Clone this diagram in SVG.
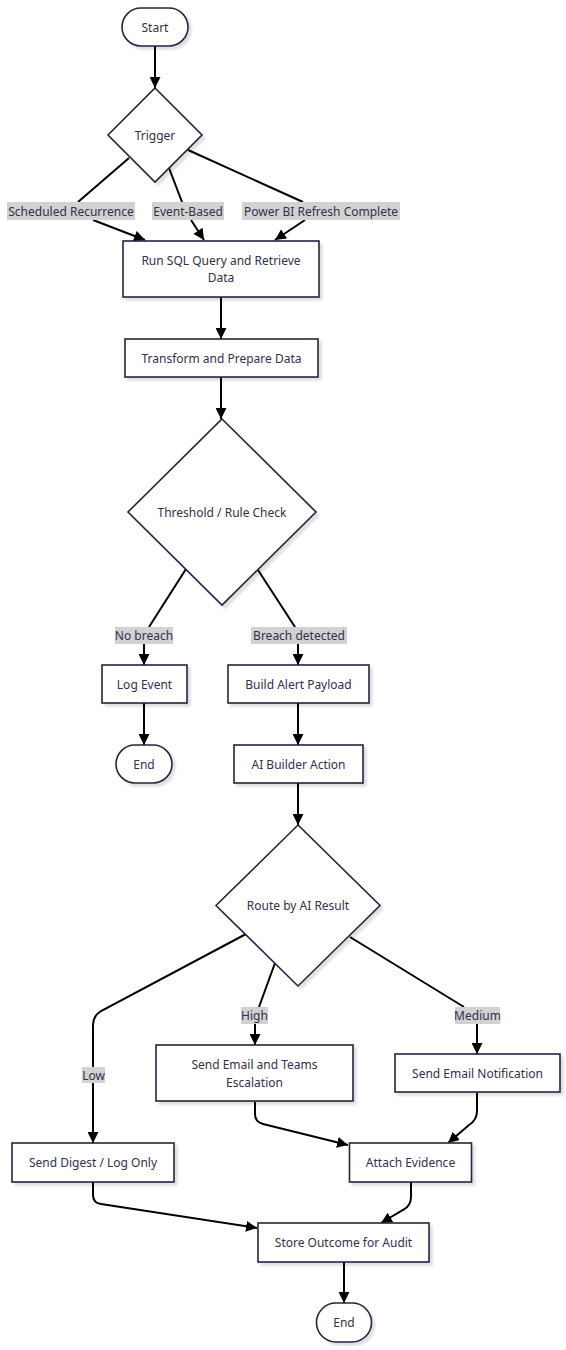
<svg xmlns="http://www.w3.org/2000/svg" width="566" height="1350" viewBox="0 0 566 1350">
<style>
.n{fill:#fff;stroke:#27243f;stroke-width:1.6;filter:url(#sh)}
.t{font-family:"Noto Sans","Open Sans",sans-serif;font-size:12px;fill:#33304a;text-anchor:middle;dominant-baseline:central}
.e{fill:none;stroke:#000;stroke-width:2}
.a{marker-end:url(#arr)}
.lb{fill:#d2d2d2}
</style>
<defs>
<filter id="sh" x="-20%" y="-20%" width="140%" height="140%">
<feDropShadow dx="3" dy="3" stdDeviation="1.2" flood-color="#000" flood-opacity="0.12"/>
</filter>
<marker id="arr" viewBox="0 0 10 10" refX="10" refY="5" markerWidth="11" markerHeight="11" markerUnits="userSpaceOnUse" orient="auto">
<path d="M0,0 L10,5 L0,10 z" fill="#000"/>
</marker>
</defs>
<g id="connectors">
<path class="e a" d="M155,46 L155,88"/>
<path class="e" d="M129,158 L78,202"/>
<path class="e a" d="M93,220 L145,240"/>
<path class="e" d="M169,168 L182,202"/>
<path class="e a" d="M191,220 L204,240"/>
<path class="e" d="M188,150 L303,202"/>
<path class="e a" d="M305,220 L275,240"/>
<path class="e a" d="M221,297 L221,339"/>
<path class="e a" d="M221,377 L221,419"/>
<path class="e" d="M186,569 L149,627"/>
<path class="e a" d="M144,644 L144,665"/>
<path class="e" d="M258,570 L295,627"/>
<path class="e a" d="M298,644 L298,665"/>
<path class="e a" d="M144,703 L144,745"/>
<path class="e a" d="M298,703 L298,745"/>
<path class="e a" d="M298,783 L298,825"/>
<path class="e a" d="M246,934 L101,1011 Q93,1016 93,1025 L93,1143"/>
<path class="e" d="M275,963 L259,1007"/>
<path class="e a" d="M255,1024 L255,1045"/>
<path class="e" d="M350,937 L464,1007"/>
<path class="e a" d="M477,1024 L477,1054"/>
<path class="e a" d="M255,1102 L255,1114 Q255,1122 263,1124 L348,1145"/>
<path class="e a" d="M477,1093 L477,1111 Q477,1120 469,1125 L448,1143"/>
<path class="e a" d="M93,1182 L93,1195 Q93,1203 101,1204 L257,1228"/>
<path class="e a" d="M411,1182 L411,1197 Q411,1206 403,1210 L381,1223"/>
<path class="e a" d="M344,1262 L344,1303"/>
</g>
<g id="edge-labels">
<rect class="lb" x="7" y="202" width="128" height="18"/>
<text class="t" x="71" y="211">Scheduled Recurrence</text>
<rect class="lb" x="152" y="202" width="72" height="18"/>
<text class="t" x="188" y="211">Event-Based</text>
<rect class="lb" x="242" y="202" width="158" height="18"/>
<text class="t" x="321" y="211">Power BI Refresh Complete</text>
<rect class="lb" x="115" y="627" width="58" height="17"/>
<text class="t" x="144" y="635.5">No breach</text>
<rect class="lb" x="251" y="627" width="96" height="17"/>
<text class="t" x="299" y="635.5">Breach detected</text>
<rect class="lb" x="241" y="1007" width="27" height="17"/>
<text class="t" x="254.5" y="1015.5">High</text>
<rect class="lb" x="455" y="1007" width="45" height="17"/>
<text class="t" x="477.5" y="1015.5">Medium</text>
<rect class="lb" x="82" y="1067" width="23" height="16"/>
<text class="t" x="93.5" y="1075">Low</text>
</g>
<g id="start"><rect class="n" x="122" y="8" width="66" height="38" rx="19"/><text class="t" x="155" y="27">Start</text></g>
<g id="trigger"><path class="n" d="M155,88 L202,135 L155,182 L108,135 Z"/><text class="t" x="155" y="135">Trigger</text></g>
<g id="runsql"><rect class="n" x="123" y="241" width="196" height="56"/><text class="t" x="221" y="260">Run SQL Query and Retrieve</text><text class="t" x="221" y="277">Data</text></g>
<g id="transform"><rect class="n" x="125" y="339" width="193" height="38"/><text class="t" x="221.5" y="358">Transform and Prepare Data</text></g>
<g id="threshold"><path class="n" d="M222,419 L316,512 L222,605 L128,512 Z"/><text class="t" x="222" y="512">Threshold / Rule Check</text></g>
<g id="logevent"><rect class="n" x="102" y="665" width="85" height="38"/><text class="t" x="144.5" y="684">Log Event</text></g>
<g id="buildalert"><rect class="n" x="228" y="665" width="141" height="38"/><text class="t" x="298.5" y="684">Build Alert Payload</text></g>
<g id="end1"><rect class="n" x="116" y="745" width="56" height="38" rx="19"/><text class="t" x="144" y="764">End</text></g>
<g id="aibuilder"><rect class="n" x="234" y="745" width="129" height="38"/><text class="t" x="298.5" y="764">AI Builder Action</text></g>
<g id="route"><path class="n" d="M298,825 L380,905.5 L298,986 L216,905.5 Z"/><text class="t" x="298" y="905.5">Route by AI Result</text></g>
<g id="escalation"><rect class="n" x="156" y="1045" width="197" height="56"/><text class="t" x="254.5" y="1064">Send Email and Teams</text><text class="t" x="254.5" y="1082">Escalation</text></g>
<g id="notification"><rect class="n" x="395" y="1054" width="165" height="38"/><text class="t" x="477.5" y="1073">Send Email Notification</text></g>
<g id="digest"><rect class="n" x="12" y="1143" width="162" height="39"/><text class="t" x="93" y="1162.5">Send Digest / Log Only</text></g>
<g id="attach"><rect class="n" x="349.5" y="1143" width="122" height="39"/><text class="t" x="410.5" y="1162.5">Attach Evidence</text></g>
<g id="store"><rect class="n" x="258" y="1223" width="171" height="39"/><text class="t" x="343.5" y="1242.5">Store Outcome for Audit</text></g>
<g id="end2"><rect class="n" x="316.5" y="1303" width="55" height="39" rx="19.5"/><text class="t" x="344" y="1322.5">End</text></g>
</svg>
